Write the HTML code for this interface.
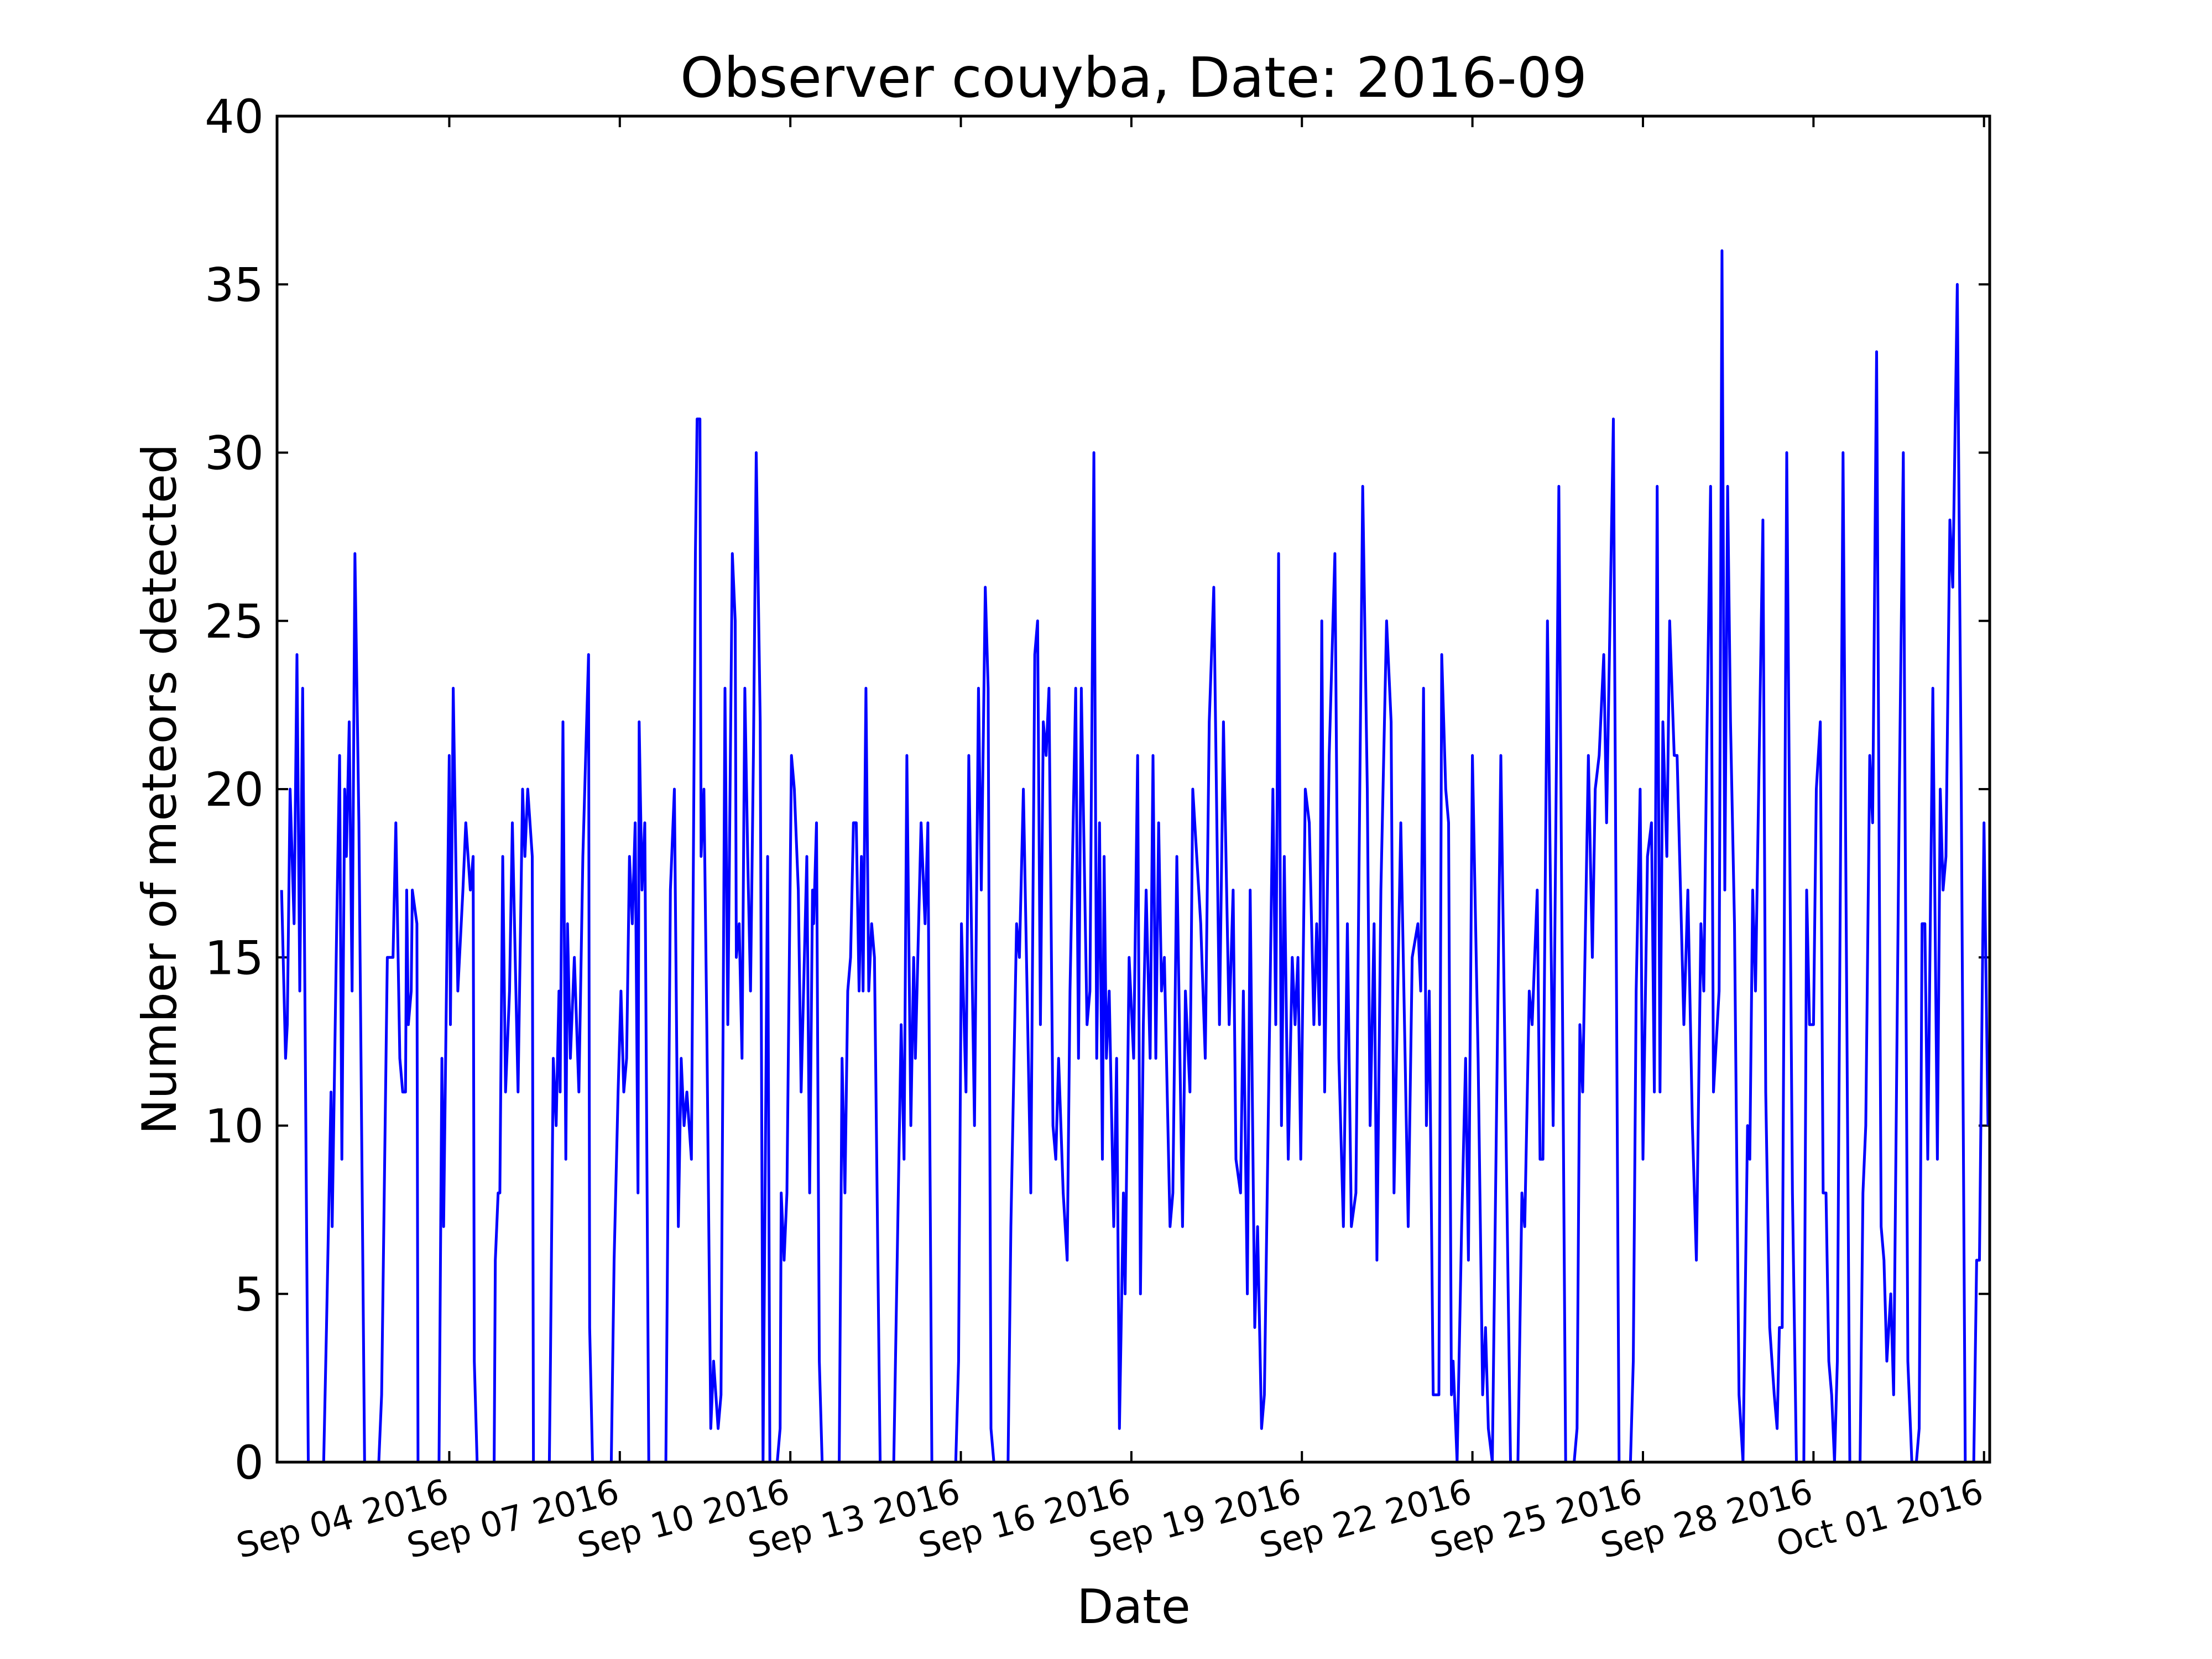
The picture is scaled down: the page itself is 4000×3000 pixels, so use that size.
<!DOCTYPE html>
<html>
<head>
<meta charset="utf-8">
<style>
html,body{margin:0;padding:0;background:#fff;}
svg{display:block;font-family:"DejaVu Sans","Liberation Sans",sans-serif;}
</style>
</head>
<body>
<svg id="chart" width="4000" height="3000" viewBox="0 0 4000 3000" xmlns="http://www.w3.org/2000/svg">
<rect x="0" y="0" width="4000" height="3000" fill="#fff"/>
<text x="2050" y="175" font-size="100" text-anchor="middle">Observer couyba, Date: 2016-09</text>
<text x="2050" y="2935" font-size="86" text-anchor="middle">Date</text>
<text transform="translate(318,1427) rotate(-90)" font-size="86" text-anchor="middle">Number of meteors detected</text>
<g id="ticks"></g>
<path id="series" fill="none" stroke="#0000ff" stroke-width="5" stroke-linejoin="round"/>
<rect x="501" y="210" width="3097" height="2434" fill="none" stroke="#000" stroke-width="5"/>
</svg>
<script>
// days since 2016-09-01 00:00
const times = [0.05,0.12,0.15,0.20,0.27,0.32,0.37,0.42,0.52,0.79,0.84,0.92,0.94,1.02,1.07,1.11,1.16,1.19,1.24,1.29,1.34,1.41,1.51,1.76,1.81,1.91,2.01,2.06,2.13,2.18,2.23,2.25,2.28,2.33,2.35,2.43,2.45,2.82,2.87,2.90,3.00,3.02,3.07,3.15,3.24,3.29,3.37,3.42,3.44,3.49,3.79,3.81,3.86,3.89,3.94,3.99,4.06,4.11,4.21,4.29,4.33,4.38,4.46,4.48,4.76,4.78,4.83,4.88,4.93,4.95,5.00,5.05,5.08,5.13,5.20,5.28,5.35,5.45,5.47,5.52,5.85,5.90,5.97,6.02,6.07,6.12,6.17,6.22,6.27,6.32,6.34,6.39,6.44,6.51,6.81,6.89,6.96,7.03,7.08,7.13,7.18,7.26,7.33,7.36,7.41,7.43,7.48,7.53,7.60,7.65,7.73,7.78,7.85,7.90,7.98,8.03,8.05,8.10,8.15,8.20,8.25,8.30,8.35,8.40,8.47,8.52,8.60,8.64,8.77,8.82,8.84,8.89,8.94,9.02,9.07,9.14,9.19,9.29,9.34,9.39,9.41,9.46,9.51,9.56,9.86,9.91,9.96,10.01,10.06,10.11,10.16,10.21,10.25,10.28,10.33,10.38,10.43,10.48,10.58,10.82,10.95,11.00,11.05,11.12,11.17,11.20,11.30,11.37,11.42,11.49,11.91,11.96,12.01,12.09,12.14,12.24,12.31,12.36,12.43,12.48,12.53,12.58,12.83,12.88,12.98,13.03,13.10,13.23,13.30,13.35,13.40,13.45,13.50,13.55,13.62,13.67,13.72,13.80,13.87,13.92,14.02,14.07,14.12,14.22,14.27,14.34,14.39,14.44,14.49,14.52,14.56,14.61,14.69,14.74,14.79,14.86,14.89,14.96,15.04,15.11,15.16,15.21,15.26,15.33,15.38,15.43,15.48,15.53,15.58,15.68,15.73,15.80,15.90,15.95,16.03,16.08,16.15,16.22,16.30,16.37,16.45,16.55,16.62,16.72,16.79,16.84,16.92,16.97,17.04,17.09,17.17,17.22,17.29,17.34,17.49,17.54,17.59,17.64,17.69,17.76,17.83,17.88,17.93,17.98,18.06,18.13,18.21,18.26,18.31,18.35,18.40,18.48,18.58,18.65,18.73,18.80,18.87,18.95,19.07,19.15,19.20,19.27,19.32,19.39,19.49,19.57,19.62,19.74,19.87,19.94,20.04,20.09,20.14,20.19,20.24,20.31,20.41,20.46,20.53,20.58,20.63,20.66,20.73,20.81,20.88,20.93,21.00,21.10,21.18,21.23,21.28,21.35,21.50,21.67,21.80,21.87,21.92,22.00,22.05,22.14,22.19,22.24,22.32,22.42,22.52,22.64,22.79,22.84,22.89,22.94,23.04,23.11,23.16,23.23,23.31,23.36,23.48,23.58,23.78,23.83,23.88,23.95,24.00,24.08,24.15,24.20,24.25,24.30,24.35,24.42,24.47,24.55,24.60,24.72,24.79,24.87,24.94,25.02,25.07,25.12,25.19,25.24,25.34,25.39,25.44,25.49,25.54,25.61,25.69,25.76,25.84,25.88,25.93,25.98,26.11,26.16,26.23,26.31,26.36,26.40,26.45,26.53,26.63,26.70,26.83,26.88,26.93,27.00,27.05,27.12,27.17,27.22,27.27,27.32,27.37,27.42,27.52,27.64,27.82,27.87,27.92,27.99,28.04,28.11,28.19,28.24,28.29,28.36,28.41,28.51,28.58,28.66,28.73,28.81,28.86,28.91,28.96,29.01,29.10,29.18,29.23,29.28,29.33,29.40,29.45,29.53,29.60,29.67,29.82,29.87,29.92,30.00,30.07];
const counts = [17,12,13,20,16,24,14,23,0,0,4,11,7,16,21,9,20,18,22,14,27,19,0,0,2,15,15,19,12,11,11,17,13,14,17,16,0,0,12,7,21,13,23,14,17,19,17,18,3,0,0,6,8,8,18,11,14,19,11,20,18,20,18,0,0,3,12,10,14,11,22,9,16,12,15,11,18,24,4,0,0,6,11,14,11,12,18,16,19,8,22,17,19,0,0,17,20,7,12,10,11,9,27,31,31,18,20,13,1,3,1,2,23,13,27,25,15,16,12,23,18,14,21,30,22,0,18,0,0,1,8,6,8,21,20,17,11,18,8,17,16,19,3,0,0,12,8,14,15,19,19,14,18,14,23,14,16,15,0,0,13,9,21,10,15,12,19,16,19,0,0,3,16,11,21,10,23,17,26,23,1,0,0,7,16,15,20,8,24,25,13,22,21,23,10,9,12,8,6,14,23,12,23,13,14,30,12,19,9,18,12,14,7,12,1,8,5,15,12,21,5,13,17,12,21,12,19,14,15,7,8,18,7,14,11,20,18,16,12,22,26,13,22,13,17,9,8,14,5,17,4,7,1,2,20,13,27,10,18,9,15,13,15,9,20,19,13,16,13,25,11,21,27,12,7,16,7,8,29,20,10,16,6,17,25,22,8,19,7,15,16,14,23,10,14,2,2,24,20,19,2,3,0,7,12,6,21,12,2,4,1,0,21,0,0,8,7,14,13,17,9,9,25,10,29,0,0,1,13,11,21,15,20,21,24,19,31,0,0,3,14,20,9,18,19,11,29,11,22,18,25,21,21,13,17,10,6,16,14,21,29,11,14,36,17,29,22,16,2,0,10,9,17,14,28,11,4,2,1,4,4,30,8,0,0,17,13,13,20,22,8,8,3,2,0,3,30,0,0,8,10,21,19,33,7,6,3,5,2,20,30,3,0,0,1,16,16,9,23,9,20,17,18,28,26,35,20,0,0,6,6,19,10];
const xTickDays = [3,6,9,12,15,18,21,24,27,30];
const xTickLabels = ["Sep 04 2016","Sep 07 2016","Sep 10 2016","Sep 13 2016","Sep 16 2016","Sep 19 2016","Sep 22 2016","Sep 25 2016","Sep 28 2016","Oct 01 2016"];
const yTicks = [0,5,10,15,20,25,30,35,40];

const L=501,R=3598,T=210,B=2644, XMIN=-0.03, XMAX=30.10, YMAX=40;
const xs = d => L + (d - XMIN) / (XMAX - XMIN) * (R - L);
const ys = v => B - v / YMAX * (B - T);
const NS="http://www.w3.org/2000/svg";
const g=document.getElementById('ticks');
function mk(tag,attrs){const e=document.createElementNS(NS,tag);for(const k in attrs)e.setAttribute(k,attrs[k]);return e;}

yTicks.forEach(v=>{
  const y=ys(v);
  const t1=mk('line',{x1:L,x2:L+20,y1:y,y2:y,stroke:'#000','stroke-width':4});
  
  
  g.appendChild(t1);
  const t2=mk('line',{x1:R-20,x2:R,y1:y,y2:y,stroke:'#000','stroke-width':4});
  
  
  g.appendChild(t2);
  const lab=mk('text',{x:L-24,y:y+30,'font-size':84,'text-anchor':'end'});
  lab.textContent=String(v);
  
  
  g.appendChild(lab);
});
xTickDays.forEach((d,i)=>{
  const x=xs(d);
  const t1=mk('line',{x1:x,x2:x,y1:B-20,y2:B,stroke:'#000','stroke-width':4});
  
  
  g.appendChild(t1);
  const t2=mk('line',{x1:x,x2:x,y1:T,y2:T+20,stroke:'#000','stroke-width':4});
  
  
  g.appendChild(t2);
  const lab=mk('text',{transform:`translate(${x+2},${B+72}) rotate(-15)`,'font-size':62,'text-anchor':'end'});
  lab.textContent=xTickLabels[i];
  
  
  g.appendChild(lab);
});
let dstr='';
times.forEach((t,i)=>{dstr+=(i?'L':'M')+xs(t).toFixed(1)+' '+ys(counts[i]).toFixed(1);});
document.getElementById('series').setAttribute('d',dstr);
</script>
</body>
</html>
